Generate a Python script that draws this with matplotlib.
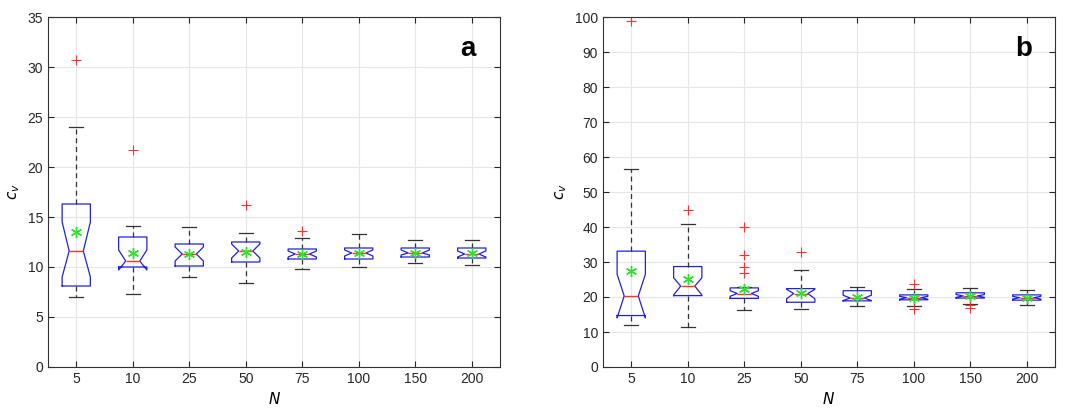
import matplotlib
matplotlib.use("Agg")
import matplotlib.pyplot as plt

plt.rcParams["font.family"] = ["Liberation Sans", "DejaVu Sans"]

N_LABELS = ["5", "10", "25", "50", "75", "100", "150", "200"]

# panel a: q1, median, q3, notch lo, notch hi, whisker lo, whisker hi, mean, fliers
A_Q1 = [8.1, 10.0, 10.1, 10.5, 10.8, 10.8, 11.0, 10.9]
A_MED = [11.6, 10.6, 11.3, 11.6, 11.3, 11.4, 11.4, 11.3]
A_Q3 = [16.3, 13.0, 12.3, 12.5, 11.8, 11.9, 11.9, 11.9]
A_CILO = [9.0, 9.7, 10.6, 10.9, 11.0, 11.1, 11.2, 11.0]
A_CIHI = [14.5, 11.7, 12.0, 12.3, 11.6, 11.7, 11.7, 11.6]
A_WLO = [7.0, 7.3, 9.0, 8.4, 9.8, 10.0, 10.4, 10.2]
A_WHI = [24.0, 14.1, 14.0, 13.4, 12.9, 13.3, 12.7, 12.7]
A_MEAN = [13.5, 11.4, 11.3, 11.5, 11.3, 11.4, 11.4, 11.4]
A_FLIERS = [[30.7], [21.7], [], [16.2], [13.6], [], [], []]

# panel b
B_Q1 = [14.7, 20.4, 19.6, 18.5, 18.9, 19.2, 19.7, 19.1]
B_MED = [20.3, 23.1, 21.0, 21.0, 19.7, 19.8, 20.3, 19.8]
B_Q3 = [33.1, 28.7, 22.6, 22.4, 21.8, 20.6, 21.2, 20.6]
B_CILO = [14.0, 20.6, 20.2, 19.5, 19.0, 19.4, 19.9, 19.4]
B_CIHI = [26.5, 25.5, 21.8, 22.2, 20.5, 20.2, 20.7, 20.2]
B_WLO = [12.0, 11.3, 16.3, 16.7, 17.5, 17.5, 17.9, 17.6]
B_WHI = [56.5, 41.0, 23.0, 27.7, 23.0, 22.2, 22.7, 21.9]
B_MEAN = [27.5, 25.1, 22.2, 21.2, 20.0, 19.8, 20.3, 19.8]
B_FLIERS = [[99.0], [45.0], [27.0, 28.5, 32.0, 40.0], [33.0], [], [16.6, 23.8], [17.0, 17.8], []]


def stats(q1, med, q3, cilo, cihi, wlo, whi, mean, fliers):
    return [dict(q1=a, med=b, q3=c, cilo=d, cihi=e, whislo=f, whishi=g, mean=h, fliers=i)
            for a, b, c, d, e, f, g, h, i in zip(q1, med, q3, cilo, cihi, wlo, whi, mean, fliers)]


def draw(ax, st, ymax, ystep, letter):
    ax.bxp(st, shownotches=True, showmeans=True, widths=0.5,
           boxprops=dict(color="#2020e0", lw=0.9),
           medianprops=dict(color="#ff3030", lw=1.0),
           whiskerprops=dict(color="#333333", lw=0.9, linestyle=(0, (4, 3))),
           capprops=dict(color="#333333", lw=0.9),
           meanprops=dict(marker=(6, 2, 0), markerfacecolor="#30e030", markeredgecolor="#30e030",
                          markersize=8, markeredgewidth=1.0),
           flierprops=dict(marker="+", markeredgecolor="#ff3030", markersize=7, markeredgewidth=0.8))
    ax.set_ylim(0, ymax)
    ax.set_yticks(range(0, ymax + 1, ystep))
    ax.set_xlim(0.5, 8.5)
    ax.set_xticks(range(1, 9))
    ax.set_xticklabels(N_LABELS)
    ax.grid(True, color="#e6e6e6", lw=0.8)
    ax.set_axisbelow(True)
    for s in ax.spines.values():
        s.set_color("#333333")
        s.set_linewidth(0.8)
    ax.tick_params(direction="in", labelsize=10, colors="#262626", length=4, top=True, right=True,
                   labeltop=False, labelright=False)
    ax.set_xlabel("$N$", fontsize=11)
    ax.set_ylabel("$c_v$", fontsize=11)
    ax.text(0.93, 0.91, letter, transform=ax.transAxes, fontsize=20, fontweight="bold",
            ha="center", va="center")


fig = plt.figure(figsize=(10.7, 4.12), dpi=100)
ax1 = fig.add_axes([48 / 1070, 45 / 412, 452 / 1070, 350 / 412])
ax2 = fig.add_axes([603 / 1070, 45 / 412, 452 / 1070, 350 / 412])
draw(ax1, stats(A_Q1, A_MED, A_Q3, A_CILO, A_CIHI, A_WLO, A_WHI, A_MEAN, A_FLIERS), 35, 5, "a")
draw(ax2, stats(B_Q1, B_MED, B_Q3, B_CILO, B_CIHI, B_WLO, B_WHI, B_MEAN, B_FLIERS), 100, 10, "b")
fig.savefig("out.png", dpi=100, facecolor="white")
